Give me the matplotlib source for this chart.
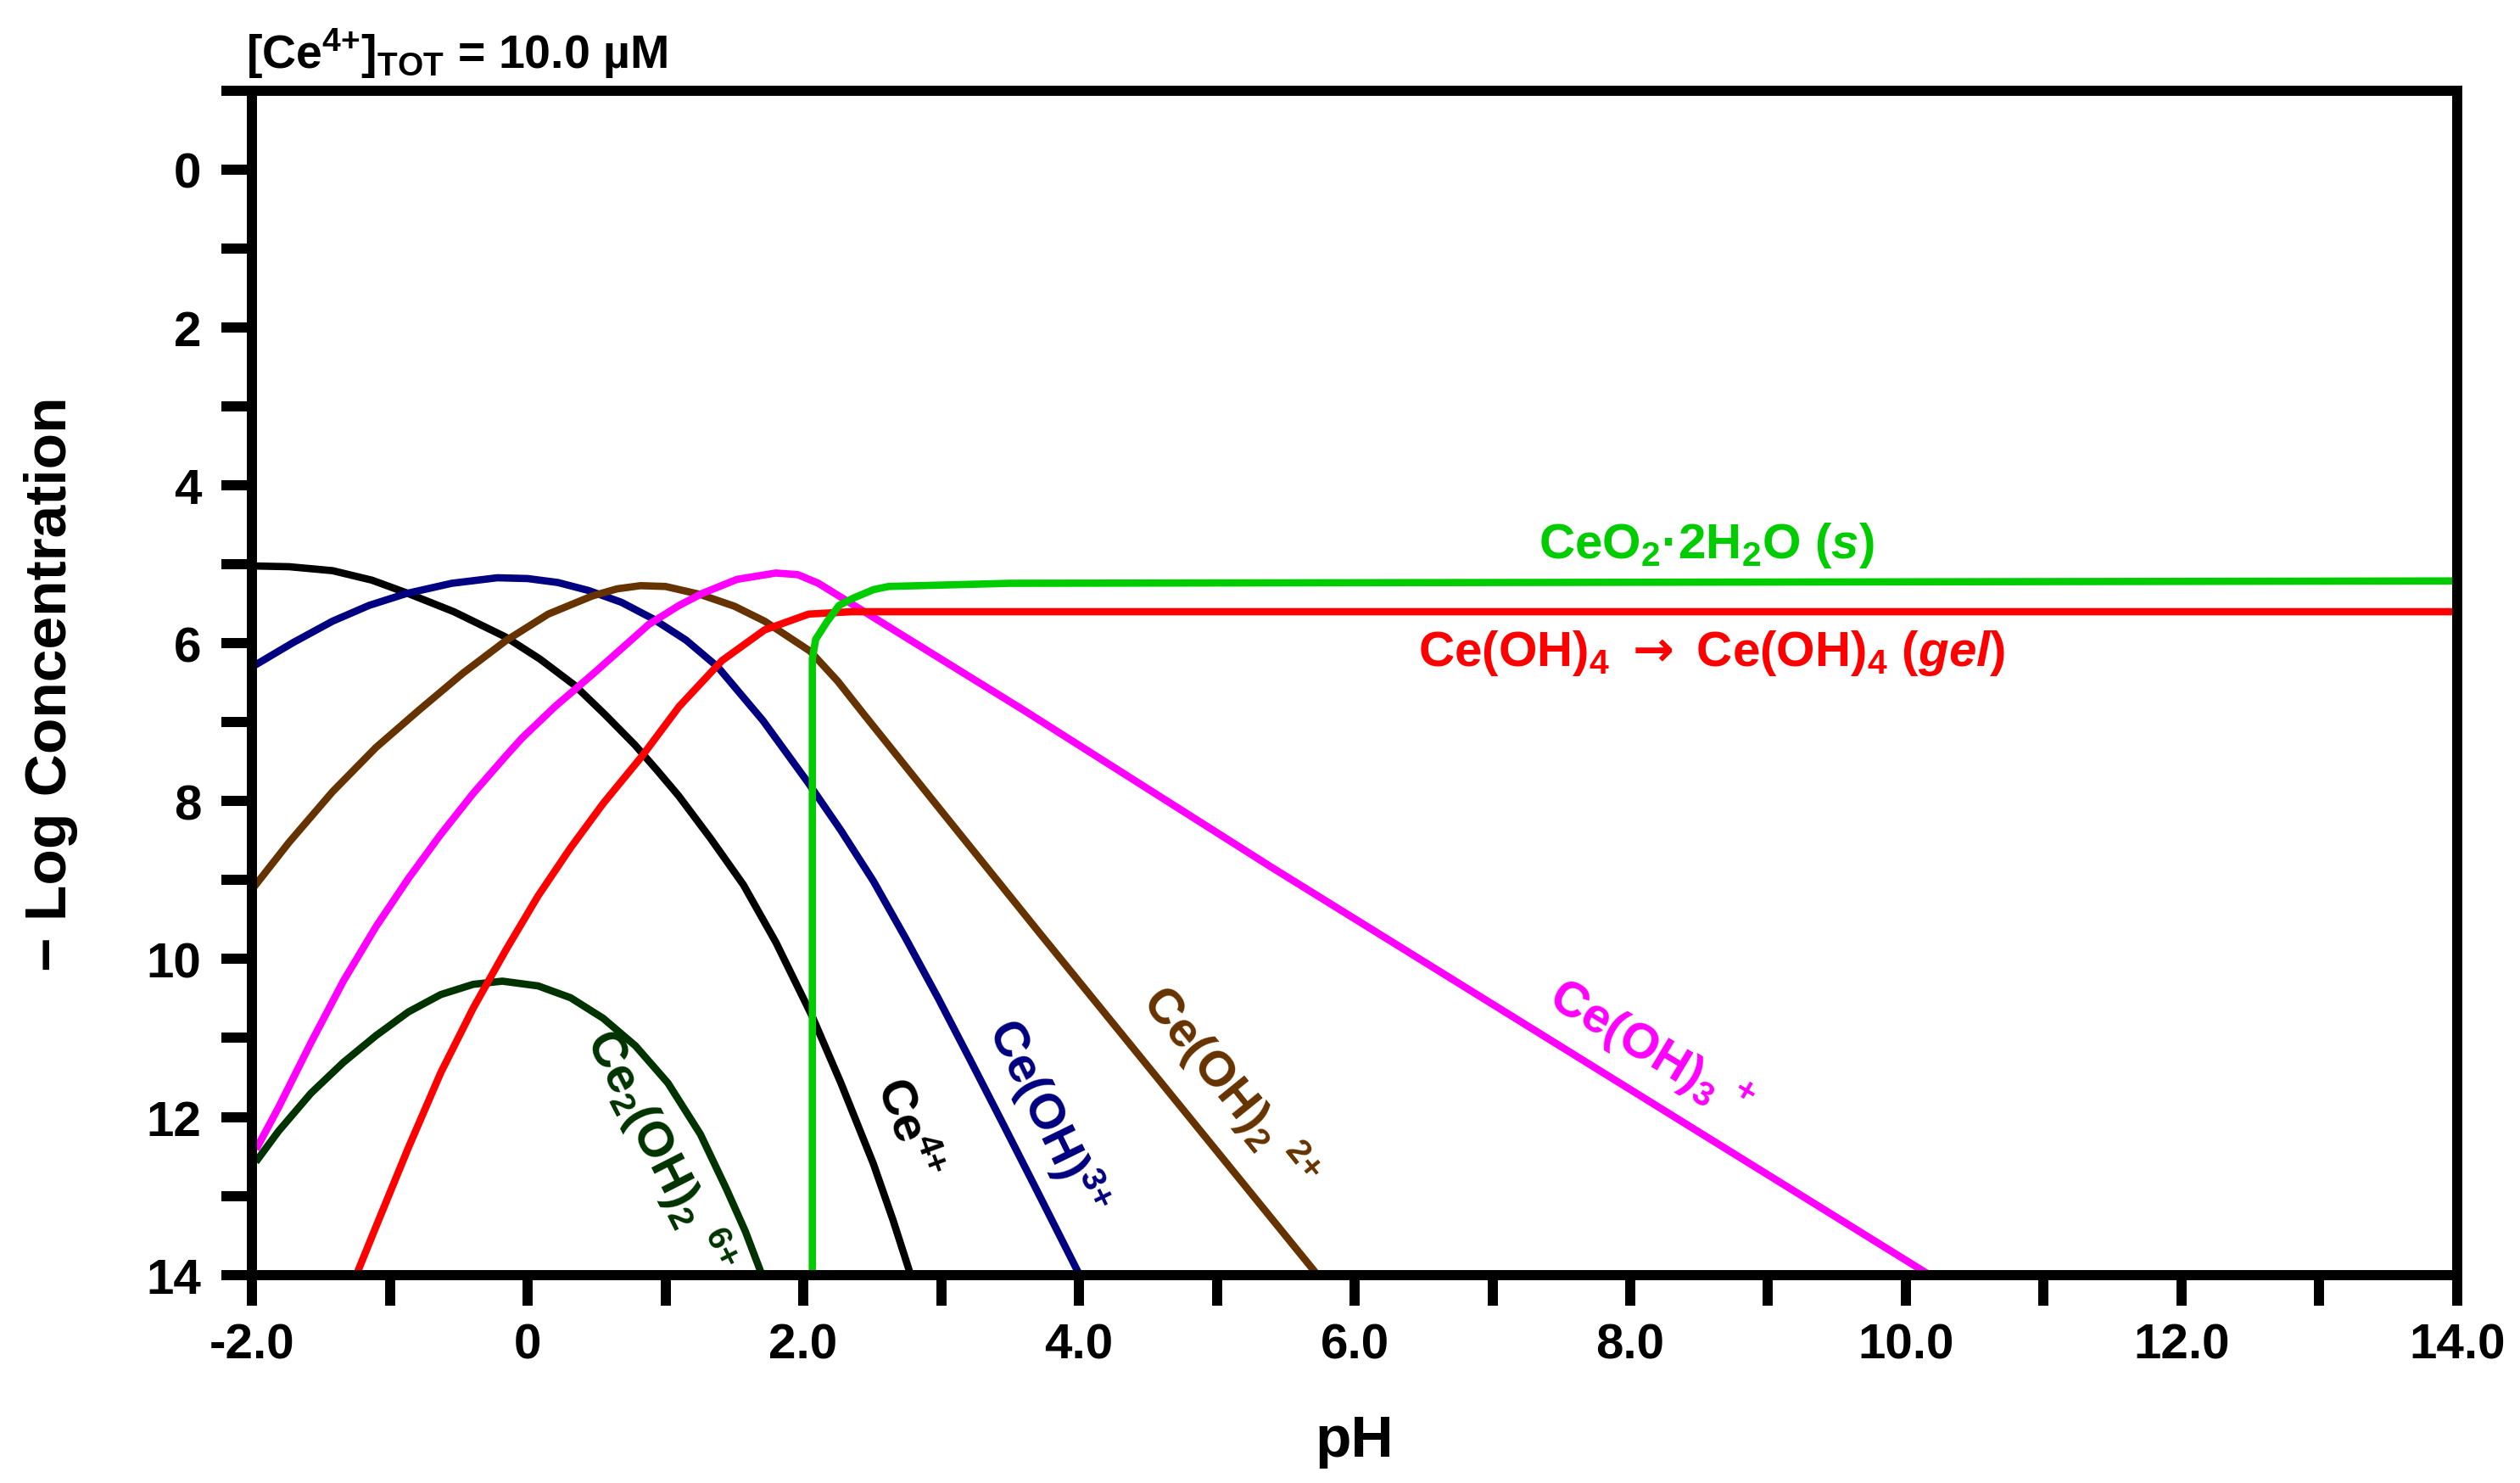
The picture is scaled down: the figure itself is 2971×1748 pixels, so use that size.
import matplotlib
matplotlib.use("Agg")
import matplotlib.pyplot as plt

plt.rcParams['font.family'] = ['Liberation Sans', 'DejaVu Sans']
plt.rcParams['font.weight'] = 'bold'
plt.rcParams['mathtext.fontset'] = 'custom'
plt.rcParams['mathtext.rm'] = 'Liberation Sans:bold'
plt.rcParams['mathtext.bf'] = 'Liberation Sans:bold'
plt.rcParams['mathtext.sf'] = 'Liberation Sans:bold'
plt.rcParams['mathtext.it'] = 'Liberation Sans:italic:bold'
plt.rcParams['mathtext.cal'] = 'DejaVu Sans'
plt.rcParams['mathtext.default'] = 'rm'

# ---- data (pH, -log concentration) ----
ce4_ph = [-2.0, -1.73, -1.415, -1.13, -0.88, -0.535, -0.16, 0.09, 0.34, 0.56, 0.78,
          0.94, 1.095, 1.331, 1.566, 1.802, 2.066, 2.273, 2.508, 2.65, 2.779]
ce4_y = [5.02, 5.03, 5.08, 5.20, 5.36, 5.60, 5.92, 6.20, 6.53, 6.90, 7.29,
         7.61, 7.93, 8.48, 9.06, 9.79, 10.73, 11.57, 12.59, 13.30, 14.0]

ceoh_ph = [-2.0, -1.70, -1.415, -1.15, -0.88, -0.55, -0.22, 0.0, 0.22, 0.44, 0.68,
           0.91, 1.15, 1.38, 1.708, 2.037, 2.273, 2.508, 2.744, 2.98, 3.215, 3.45,
           3.686, 4.004]
ceoh_y = [6.30, 5.99, 5.72, 5.52, 5.37, 5.24, 5.17, 5.18, 5.23, 5.33, 5.48,
          5.69, 5.96, 6.30, 6.98, 7.77, 8.37, 9.01, 9.74, 10.50, 11.29, 12.09,
          12.90, 14.0]

ceoh2_ph = [-2.0, -1.73, -1.415, -1.10, -0.79, -0.47, -0.16, 0.15, 0.47, 0.65, 0.82,
            1.0, 1.25, 1.50, 1.72, 2.05, 2.25, 2.44, 3.0, 3.71, 4.79, 5.73]
ceoh2_y = [9.12, 8.52, 7.88, 7.32, 6.85, 6.38, 5.97, 5.63, 5.40, 5.31, 5.27,
           5.28, 5.38, 5.53, 5.72, 6.10, 6.48, 6.90, 8.12, 9.66, 11.98, 14.0]

ceoh3_ph = [-1.97, -1.807, -1.572, -1.337, -1.10, -0.865, -0.63, -0.394, -0.159,
            -0.04, 0.20, 0.48, 0.88, 1.10, 1.265, 1.52, 1.80, 1.96, 2.11, 2.36,
            3.62, 5.40, 10.17]
ceoh3_y = [12.41, 11.88, 11.06, 10.28, 9.59, 8.98, 8.42, 7.90, 7.43,
           7.20, 6.80, 6.38, 5.76, 5.52, 5.37, 5.19, 5.11, 5.13, 5.24, 5.51,
           6.87, 8.84, 14.0]

ceoh4_ph = [-1.242, -1.10, -0.865, -0.63, -0.394, -0.159, 0.076, 0.312, 0.548, 0.83,
            1.10, 1.41, 1.72, 2.04, 2.35, 14.0]
ceoh4_y = [14.0, 13.39, 12.39, 11.44, 10.62, 9.89, 9.20, 8.59, 8.03, 7.43,
           6.80, 6.22, 5.83, 5.63, 5.60, 5.60]

ceo2_ph = [2.066, 2.066, 2.09, 2.175, 2.26, 2.36, 2.51, 2.62, 3.5, 14.0]
ceo2_y = [14.0, 6.20, 5.95, 5.72, 5.52, 5.43, 5.32, 5.28, 5.24, 5.21]

ce2_ph = [-1.972, -1.807, -1.572, -1.337, -1.10, -0.865, -0.63, -0.394, -0.183,
          0.076, 0.312, 0.548, 0.783, 1.018, 1.254, 1.442, 1.58, 1.70]
ce2_y = [12.57, 12.18, 11.70, 11.31, 10.97, 10.67, 10.45, 10.32, 10.28,
         10.34, 10.49, 10.75, 11.10, 11.57, 12.22, 12.91, 13.45, 14.0]

x_ticks = list(range(-2, 15))
x_labels = ['-2.0', '', '0', '', '2.0', '', '4.0', '', '6.0', '', '8.0', '',
            '10.0', '', '12.0', '', '14.0']
y_ticks = list(range(-1, 15))
y_labels = ['', '0', '', '2', '', '4', '', '6', '', '8', '', '10', '', '12', '', '14']

# ---- figure ----
fig = plt.figure(figsize=(2971 / 200, 1749 / 200), dpi=200)
ax = fig.add_axes([0.09997, 0.1403, 0.87512, 0.798])

lw = 3.1
kw = dict(lw=lw, solid_joinstyle='round', solid_capstyle='butt')
ax.plot(ce2_ph, ce2_y, color='#003300', **kw)
ax.plot(ce4_ph, ce4_y, color='black', **kw)
ax.plot(ceoh_ph, ceoh_y, color='#000080', **kw)
ax.plot(ceoh2_ph, ceoh2_y, color='#663300', **kw)
ax.plot(ceoh3_ph, ceoh3_y, color='#FF00FF', **kw)
ax.plot(ceoh4_ph, ceoh4_y, color='#FF0000', **kw)
ax.plot(ceo2_ph, ceo2_y, color='#00CC00', **kw)

ax.set_xlim(-2, 14)
ax.set_ylim(14, -1)

ax.set_xticks(x_ticks)
ax.set_xticklabels(x_labels)
ax.set_yticks(y_ticks)
ax.set_yticklabels(y_labels)
ax.tick_params(axis='both', direction='out', length=13, width=4.3, labelsize=21)
ax.tick_params(axis='x', pad=7)
ax.tick_params(axis='y', pad=8.5)
for lab in ax.get_xticklabels() + ax.get_yticklabels():
    lab.set_fontweight('bold')
for sp in ax.spines.values():
    sp.set_linewidth(4.3)

ax.set_xlabel('pH', fontsize=25, fontweight='bold')
ax.xaxis.label.set_va('baseline')
ax.xaxis.set_label_coords(0.5, -0.1529)
ax.set_ylabel('\u2212 Log Concentration', fontsize=25, fontweight='bold')
ax.yaxis.label.set_va('baseline')
ax.yaxis.set_label_coords(-0.0841, 0.5)

fig.text(0.0976, 0.9537, r'[Ce$^{4{+}}$]$_{\mathrm{TOT}}$ = 10.0 µM', fontsize=20,
         fontweight='bold', ha='left', va='baseline')

lab_fs = 21
ax.text(8.55, 4.915, r'CeO$_2$·2H$_2$O ($\mathit{s}$)', color='#00CC00', fontsize=lab_fs,
        fontweight='bold', ha='center', va='baseline')
ax.text(8.59, 6.28, r'Ce(OH)$_4$ $\mathcal{\rightarrow}$ Ce(OH)$_4$ ($\mathit{gel}$)',
        color='#FF0000', fontsize=lab_fs, fontweight='bold', ha='center', va='baseline')
ax.text(8.14, 11.15, r'Ce(OH)$_3$ $^{+}$', color='#FF00FF', fontsize=lab_fs,
        fontweight='bold', ha='center', va='center', rotation=-31, rotation_mode='anchor')
ax.text(5.09, 11.62, r'Ce(OH)$_2$ $^{2{+}}$', color='#663300', fontsize=lab_fs,
        fontweight='bold', ha='center', va='center', rotation=-51, rotation_mode='anchor')
ax.text(3.77, 11.99, r'Ce(OH)$^{3{+}}$', color='#000080', fontsize=lab_fs,
        fontweight='bold', ha='center', va='center', rotation=-64, rotation_mode='anchor')
ax.text(2.754, 12.14, r'Ce$^{4{+}}$', color='black', fontsize=lab_fs,
        fontweight='bold', ha='center', va='center', rotation=-70, rotation_mode='anchor')
ax.text(0.955, 12.42, r'Ce$_2$(OH)$_2$ $^{6{+}}$', color='#003300', fontsize=lab_fs,
        fontweight='bold', ha='center', va='center', rotation=-63, rotation_mode='anchor')

fig.savefig('out.png', dpi=200)
